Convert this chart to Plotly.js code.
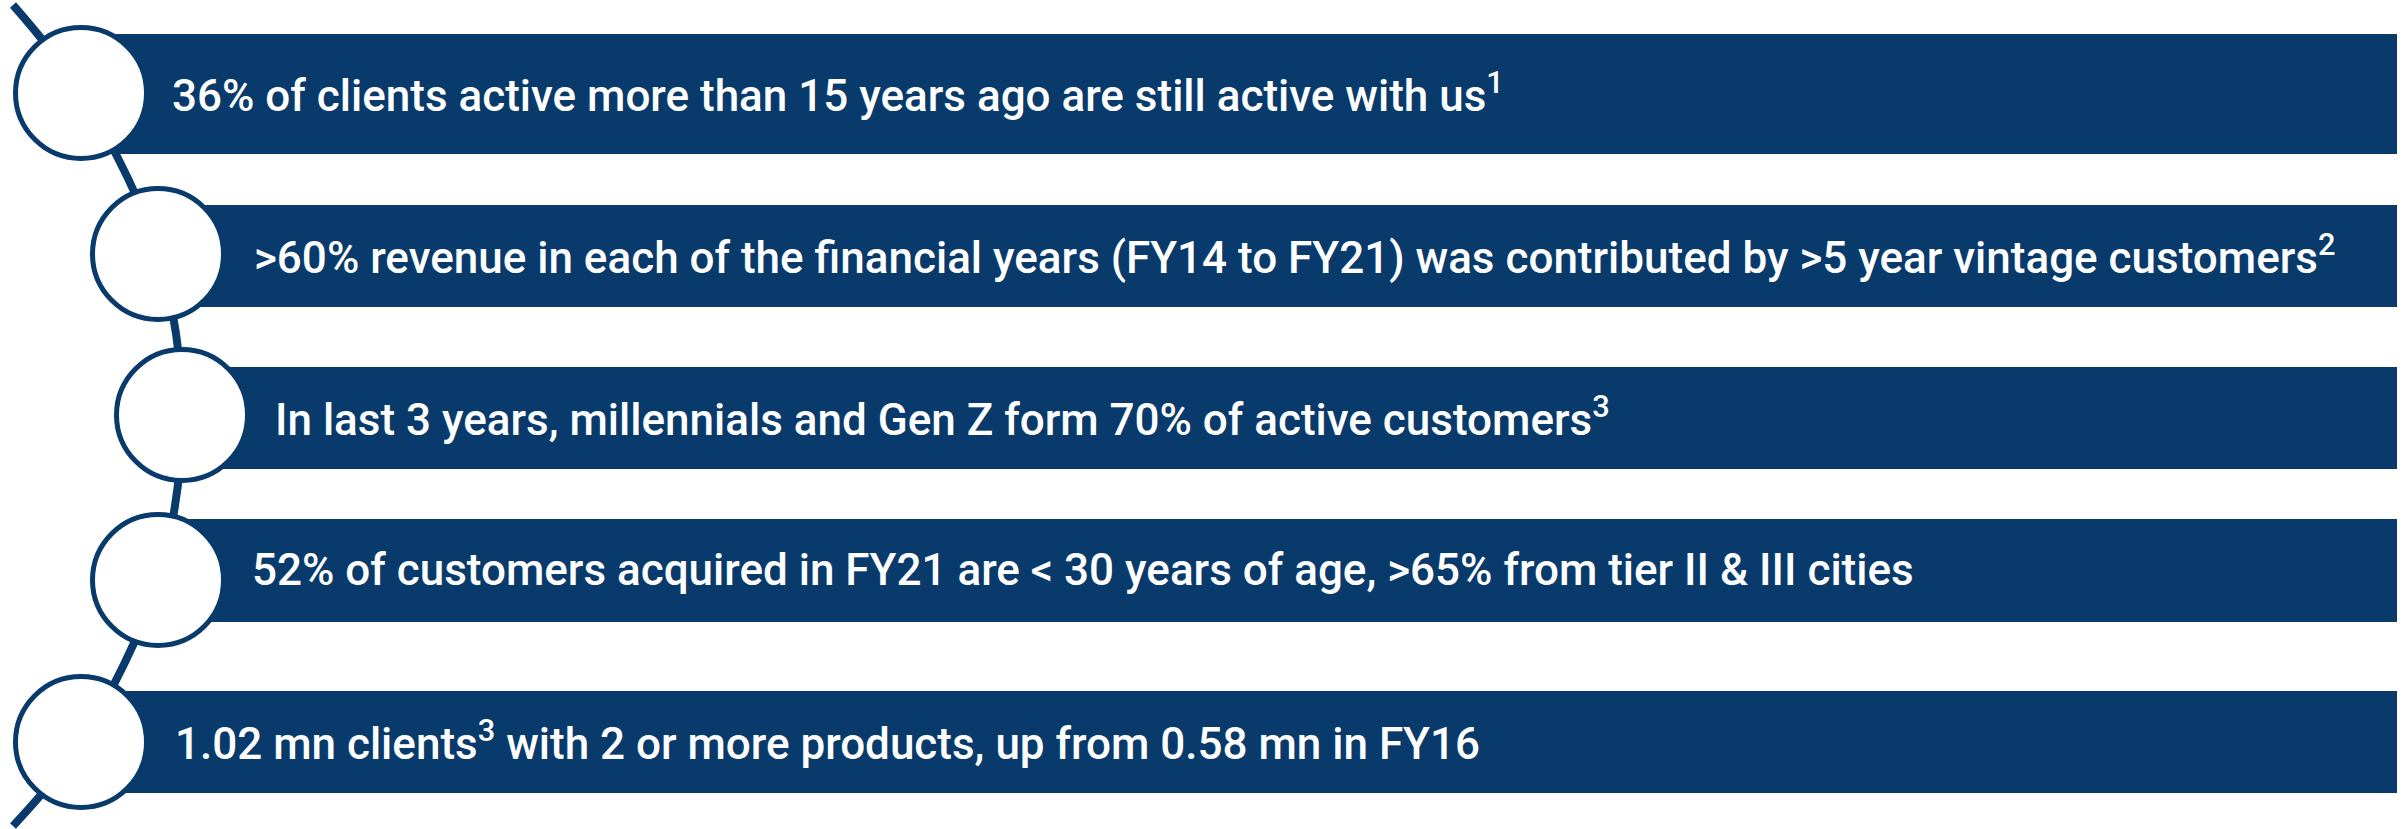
<!DOCTYPE html>
<html>
<head>
<meta charset="utf-8">
<script src="https://cdn.plot.ly/plotly-3.0.1.min.js"></script>
<style>html,body{margin:0;padding:0;background:#fff;}#chart{width:2405px;height:829px;}</style>
</head>
<body>
<div id="chart"></div>
<script>
// ---- content ----
const statements = [
  "36% of clients active more than 15 years ago are still active with us",
  ">60% revenue in each of the financial years (FY14 to FY21) was contributed by >5 year vintage customers",
  "In last 3 years, millennials and Gen Z form 70% of active customers",
  "52% of customers acquired in FY21 are < 30 years of age, >65% from tier II & III cities",
  "1.02 mn clients with 2 or more products, up from 0.58 mn in FY16"
];
const footnotes = ["1", "2", "3", "", ""];

// ---- layout geometry (pixels) ----
const rowY      = [94, 256, 418, 570.5, 742];
const rowHeight = [120, 102, 102, 103, 102];
const circleX   = [81, 158, 182, 158, 81];
const circleY   = [93, 254, 415, 580, 742];
const textX     = [170, 252, 273, 250, 173];
const barEnd    = 2397;
const pathX     = [13, 81, 158, 182, 158, 81, 13];
const pathY     = [5, 93, 254, 415, 580, 742, 826];

const navy = "#083a6b";

function esc(s){return s.replace(/&/g,"&amp;").replace(/</g,"&lt;").replace(/>/g,"&gt;");}

const barTrace = {
  type: "bar", orientation: "h",
  y: rowY, width: rowHeight,
  base: circleX,
  x: circleX.map(c => barEnd - c),
  marker: {color: navy, line: {width: 0}},
  hoverinfo: "skip"
};
const connector = {
  type: "scatter", mode: "lines",
  x: pathX, y: pathY,
  line: {color: navy, width: 8, shape: "spline"},
  hoverinfo: "skip"
};
const circles = {
  type: "scatter", mode: "markers",
  x: circleX, y: circleY,
  marker: {size: 131, color: "#ffffff", line: {color: navy, width: 5}},
  hoverinfo: "skip"
};

const texts = statements.map((s, i) => {
  if (i === 4) return "1.02 mn clients<sup>3</sup> with 2 or more products, up from 0.58 mn in FY16";
  return esc(s) + (footnotes[i] ? "<sup>" + footnotes[i] + "</sup>" : "");
});

const annotations = texts.map((t, i) => ({
  x: textX[i], y: rowY[i] - 1, xref: "x", yref: "y",
  xanchor: "left", yanchor: "middle",
  text: t, showarrow: false,
  font: {family: "Roboto, 'Noto Sans', sans-serif", size: 44, weight: 500, color: "#ffffff"}
}));

const layout = {
  width: 2405, height: 829,
  margin: {l: 0, r: 0, t: 0, b: 0, pad: 0},
  paper_bgcolor: "#ffffff", plot_bgcolor: "#ffffff",
  showlegend: false,
  barmode: "overlay",
  xaxis: {range: [0, 2405], visible: false, fixedrange: true},
  yaxis: {range: [829, 0], visible: false, fixedrange: true},
  annotations: annotations
};

Plotly.newPlot("chart", [barTrace, connector, circles], layout, {staticPlot: true, displayModeBar: false});
</script>
</body>
</html>
